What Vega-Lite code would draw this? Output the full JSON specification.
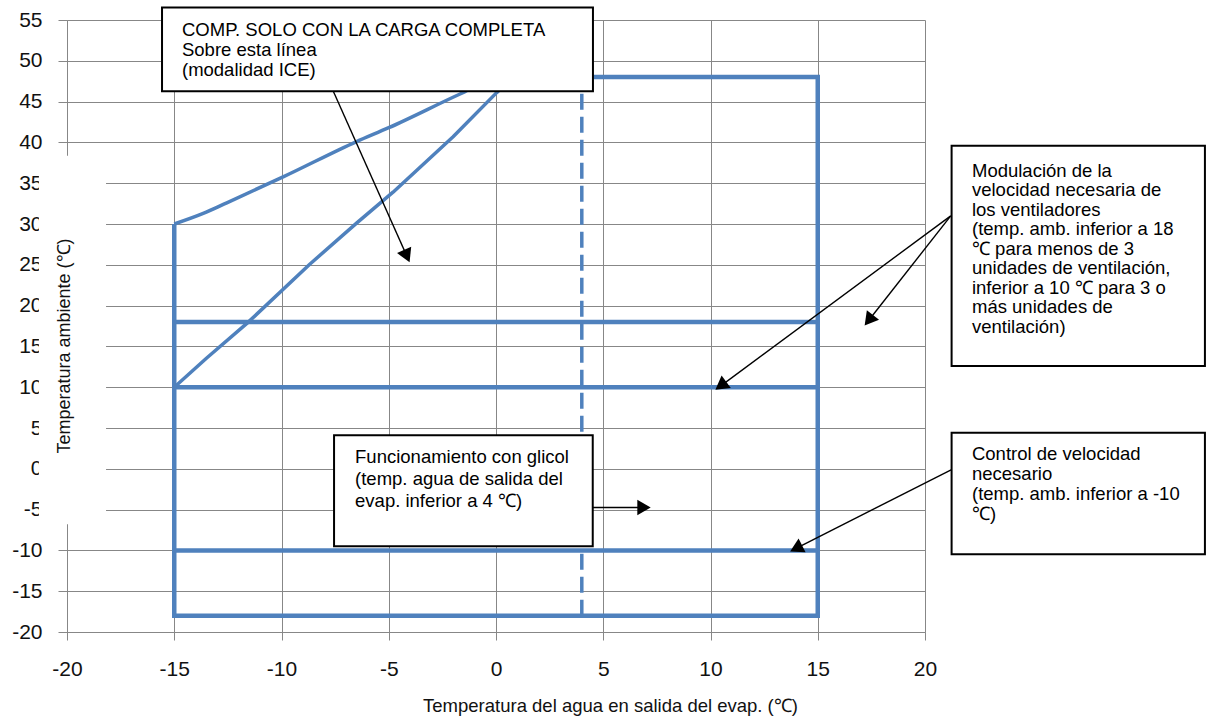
{
  "$schema": "https://vega.github.io/schema/vega-lite/v6.json",
  "width": 858,
  "height": 612,
  "autosize": {"type": "none"},
  "padding": {"left": 67, "top": 20, "right": 287, "bottom": 86},
  "background": "white",
  "config": {"view": {"stroke": null}, "font": "Liberation Sans"},
  "datasets": {
    "frame": [
      {"seg": "outline", "i": 0, "x": -15, "y": 30},
      {"seg": "outline", "i": 1, "x": -15, "y": -18},
      {"seg": "outline", "i": 2, "x": 15, "y": -18},
      {"seg": "outline", "i": 3, "x": 15, "y": 48},
      {"seg": "outline", "i": 4, "x": 1, "y": 48},
      {"seg": "h18", "i": 0, "x": -15, "y": 18},
      {"seg": "h18", "i": 1, "x": 15, "y": 18},
      {"seg": "h10", "i": 0, "x": -15, "y": 10},
      {"seg": "h10", "i": 1, "x": 15, "y": 10},
      {"seg": "hm10", "i": 0, "x": -15, "y": -10},
      {"seg": "hm10", "i": 1, "x": 15, "y": -10}
    ],
    "dash": [
      {"seg": "glicol", "i": 0, "x": 4, "y": -18},
      {"seg": "glicol", "i": 1, "x": 4, "y": 48}
    ],
    "upper": [
      {"seg": "upper", "i": 0, "x": -15, "y": 30},
      {"seg": "upper", "i": 1, "x": -13.65, "y": 31.3},
      {"seg": "upper", "i": 2, "x": -12.55, "y": 32.6},
      {"seg": "upper", "i": 3, "x": -9.9, "y": 35.8},
      {"seg": "upper", "i": 4, "x": -6.5, "y": 40.1},
      {"seg": "upper", "i": 5, "x": -5, "y": 41.8},
      {"seg": "upper", "i": 6, "x": -1.7, "y": 45.9},
      {"seg": "upper", "i": 7, "x": 0, "y": 47.9},
      {"seg": "upper", "i": 8, "x": 1, "y": 48}
    ],
    "lower": [
      {"seg": "lower", "i": 0, "x": -15, "y": 10},
      {"seg": "lower", "i": 1, "x": -13.5, "y": 13.55},
      {"seg": "lower", "i": 2, "x": -11.6, "y": 17.85},
      {"seg": "lower", "i": 3, "x": -8.67, "y": 25.1},
      {"seg": "lower", "i": 4, "x": -6.5, "y": 30.1},
      {"seg": "lower", "i": 5, "x": -4.8, "y": 33.9},
      {"seg": "lower", "i": 6, "x": -2, "y": 40.7},
      {"seg": "lower", "i": 7, "x": 0.03, "y": 46.1},
      {"seg": "lower", "i": 8, "x": 0.8, "y": 48}
    ],
    "mask": [{"x": -21.31, "x2": -18.18, "y": 38.37, "y2": -6.8}],
    "ytitle": [{"x": -20.09, "y": 15.05, "text": "Temperatura ambiente (℃)"}],
    "boxes": [
      {"name": "b1", "x": -15.57, "x2": 4.52, "y": 56.53, "y2": 46.26},
      {"name": "b2", "x": 21.24, "x2": 33.05, "y": 39.6, "y2": 12.59},
      {"name": "b3", "x": -7.55, "x2": 4.51, "y": 4.12, "y2": -9.5},
      {"name": "b4", "x": 21.24, "x2": 33.05, "y": 4.43, "y2": -10.46}
    ],
    "arrows": [
      {"name": "a1", "x": -7.585, "y": 46.26, "x2": -4.156, "y2": 26.07},
      {"name": "a2", "x": 4.51, "y": -4.74, "x2": 6.9, "y2": -4.74},
      {"name": "a3", "x": 21.2, "y": 31.0, "x2": 10.48, "y2": 10.17},
      {"name": "a4", "x": 21.2, "y": 31.0, "x2": 17.38, "y2": 18.2},
      {"name": "a5", "x": 21.24, "y": -0.09, "x2": 13.99, "y2": -9.75}
    ],
    "heads": [
      {"name": "a1", "x": -4.156, "y": 26.07},
      {"name": "a2", "x": 6.9, "y": -4.74},
      {"name": "a3", "x": 10.48, "y": 10.17},
      {"name": "a4", "x": 17.38, "y": 18.2},
      {"name": "a5", "x": 13.99, "y": -9.75}
    ],
    "notes": [
      {"name": "b1", "x": -14.64, "y": 53.01, "text": "COMP. SOLO CON LA CARGA COMPLETA\nSobre esta línea\n(modalidad ICE)"},
      {"name": "b2", "x": 22.19, "y": 35.79, "text": "Modulación de la\nvelocidad necesaria de\nlos ventiladores\n(temp. amb. inferior a 18\n℃ para menos de 3\nunidades de ventilación,\ninferior a 10 ℃ para 3 o\nmás unidades de\nventilación)"},
      {"name": "b3", "x": -6.57, "y": 0.65, "text": "Funcionamiento con glicol\n(temp. agua de salida del\nevap. inferior a 4 ℃)"},
      {"name": "b4", "x": 22.19, "y": 1.05, "text": "Control de velocidad\nnecesario\n(temp. amb. inferior a -10\n℃)"}
    ]
  },
  "encoding": {
    "x": {
      "field": "x",
      "type": "quantitative",
      "scale": {"domain": [-20, 20], "nice": false, "zero": false},
      "axis": {
        "values": [-20, -15, -10, -5, 0, 5, 10, 15, 20],
        "labelExpr": "'' + datum.value",
        "grid": true,
        "gridColor": "#878787",
        "gridWidth": 1,
        "gridOpacity": 1,
        "domainColor": "#878787",
        "domainWidth": 1,
        "tickColor": "#878787",
        "tickSize": 8,
        "labelFont": "Liberation Sans",
        "labelFontSize": 21,
        "labelColor": "#111111",
        "labelPadding": 18,
        "labelFlush": false,
        "labelOverlap": false,
        "title": "Temperatura del agua en salida del evap. (℃)",
        "titleFont": "Liberation Sans",
        "titleFontSize": 18.5,
        "titleFontWeight": "normal",
        "titleColor": "#111111",
        "titleX": 543,
        "titleY": 79,
        "titleAlign": "center",
        "titleBaseline": "alphabetic"
      }
    },
    "y": {
      "field": "y",
      "type": "quantitative",
      "scale": {"domain": [-20, 55], "nice": false, "zero": false},
      "axis": {
        "values": [-20, -15, -10, -5, 0, 5, 10, 15, 20, 25, 30, 35, 40, 45, 50, 55],
        "labelExpr": "'' + datum.value",
        "grid": true,
        "gridColor": "#878787",
        "gridWidth": 1,
        "gridOpacity": 1,
        "domainColor": "#878787",
        "domainWidth": 1,
        "tickColor": "#878787",
        "tickSize": 9,
        "labelFont": "Liberation Sans",
        "labelFontSize": 21,
        "labelColor": "#111111",
        "labelPadding": 16,
        "labelFlush": false,
        "labelOverlap": false,
        "title": null
      }
    }
  },
  "layer": [
    {
      "data": {"name": "frame"},
      "mark": {"type": "line", "color": "#4F81BD", "strokeWidth": 4.5, "strokeJoin": "miter"},
      "encoding": {"detail": {"field": "seg"}, "order": {"field": "i"}}
    },
    {
      "data": {"name": "dash"},
      "mark": {"type": "line", "color": "#4F81BD", "strokeWidth": 3.5, "strokeDash": [16, 7]},
      "encoding": {"detail": {"field": "seg"}, "order": {"field": "i"}}
    },
    {
      "data": {"name": "upper"},
      "mark": {"type": "line", "color": "#4F81BD", "strokeWidth": 3.5, "strokeJoin": "round", "interpolate": "monotone"},
      "encoding": {"order": {"field": "i"}}
    },
    {
      "data": {"name": "lower"},
      "mark": {"type": "line", "color": "#4F81BD", "strokeWidth": 3.5, "strokeJoin": "round"},
      "encoding": {"order": {"field": "i"}}
    },
    {
      "data": {"name": "mask"},
      "mark": {"type": "rect", "fill": "white", "strokeWidth": 0},
      "encoding": {"x2": {"field": "x2"}, "y2": {"field": "y2"}}
    },
    {
      "data": {"name": "ytitle"},
      "mark": {"type": "text", "angle": 270, "align": "center", "baseline": "middle", "fontSize": 18, "font": "Liberation Sans", "color": "#111111"},
      "encoding": {"text": {"field": "text"}}
    },
    {
      "data": {"name": "boxes"},
      "mark": {"type": "rect", "fill": "white", "stroke": "black", "strokeWidth": 2},
      "encoding": {"x2": {"field": "x2"}, "y2": {"field": "y2"}}
    },
    {
      "data": {"name": "arrows"},
      "mark": {"type": "rule", "color": "black", "strokeWidth": 1.4},
      "encoding": {"x2": {"field": "x2"}, "y2": {"field": "y2"}}
    },
    {
      "data": {"name": "heads"},
      "transform": [{"filter": "datum.name === 'a1'"}],
      "mark": {"type": "point", "shape": "triangle-up", "filled": true, "color": "black", "opacity": 1, "size": 240, "angle": 155.9}
    },
    {
      "data": {"name": "heads"},
      "transform": [{"filter": "datum.name === 'a2'"}],
      "mark": {"type": "point", "shape": "triangle-up", "filled": true, "color": "black", "opacity": 1, "size": 240, "angle": 90}
    },
    {
      "data": {"name": "heads"},
      "transform": [{"filter": "datum.name === 'a3'"}],
      "mark": {"type": "point", "shape": "triangle-up", "filled": true, "color": "black", "opacity": 1, "size": 240, "angle": 233.6}
    },
    {
      "data": {"name": "heads"},
      "transform": [{"filter": "datum.name === 'a4'"}],
      "mark": {"type": "point", "shape": "triangle-up", "filled": true, "color": "black", "opacity": 1, "size": 240, "angle": 218.2}
    },
    {
      "data": {"name": "heads"},
      "transform": [{"filter": "datum.name === 'a5'"}],
      "mark": {"type": "point", "shape": "triangle-up", "filled": true, "color": "black", "opacity": 1, "size": 240, "angle": 243.2}
    },
    {
      "data": {"name": "notes"},
      "transform": [{"filter": "datum.name === 'b1' || datum.name === 'b4'"}],
      "mark": {"type": "text", "align": "left", "baseline": "alphabetic", "lineBreak": "\n", "lineHeight": 20, "fontSize": 18.5, "font": "Liberation Sans", "color": "black"},
      "encoding": {"text": {"field": "text"}}
    },
    {
      "data": {"name": "notes"},
      "transform": [{"filter": "datum.name === 'b2'"}],
      "mark": {"type": "text", "align": "left", "baseline": "alphabetic", "lineBreak": "\n", "lineHeight": 19.5, "fontSize": 18.5, "font": "Liberation Sans", "color": "black"},
      "encoding": {"text": {"field": "text"}}
    },
    {
      "data": {"name": "notes"},
      "transform": [{"filter": "datum.name === 'b3'"}],
      "mark": {"type": "text", "align": "left", "baseline": "alphabetic", "lineBreak": "\n", "lineHeight": 22, "fontSize": 18.5, "font": "Liberation Sans", "color": "black"},
      "encoding": {"text": {"field": "text"}}
    }
  ]
}
